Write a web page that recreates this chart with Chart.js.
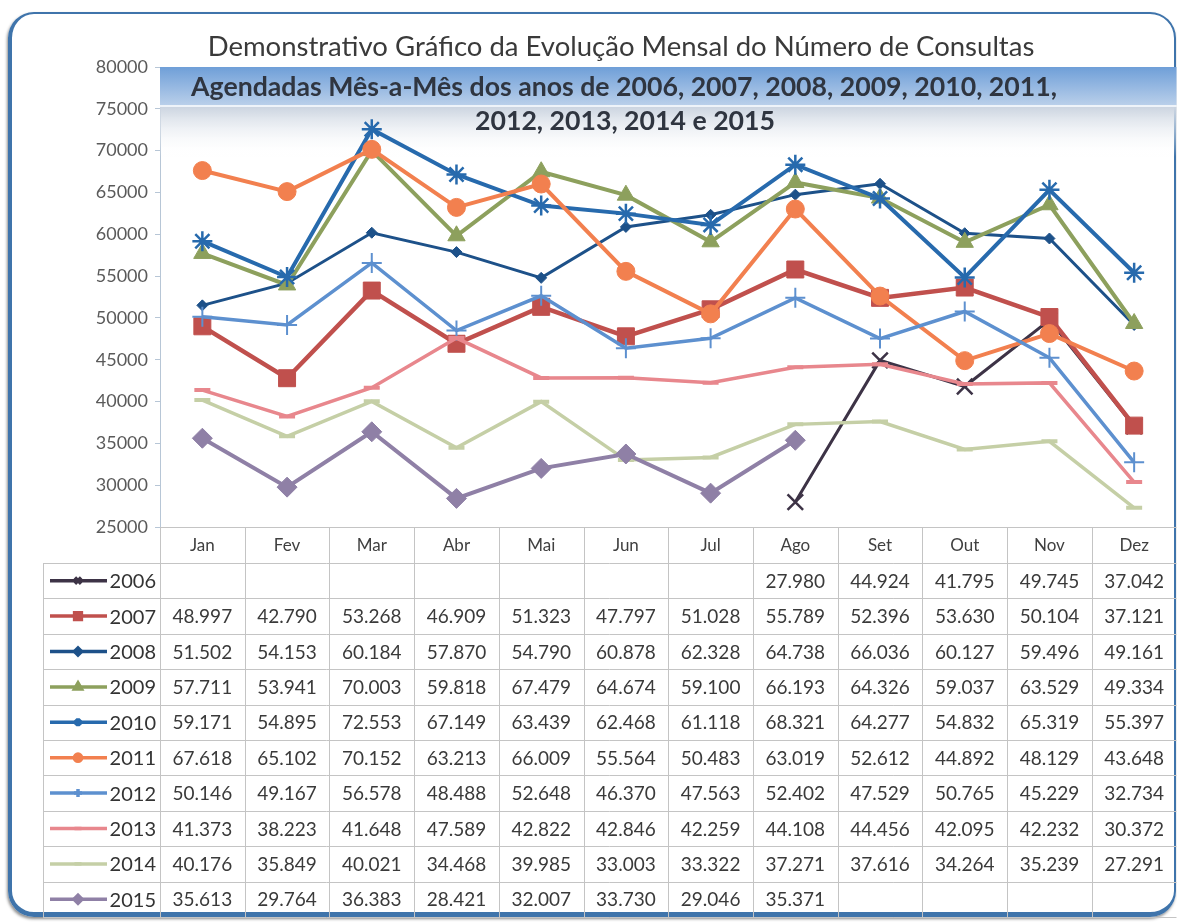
<!DOCTYPE html>
<html>
<head>
<meta charset="utf-8">
<script src="https://cdn.jsdelivr.net/npm/chart.js@4.4.0/dist/chart.umd.min.js"></script>
<style>
  html, body { margin: 0; padding: 0; background: #fff; overflow: hidden; width: 1177px; height: 923px; }
  #frame { position: absolute; left: 8px; top: 12px; width: 1168px; height: 905px; box-sizing: border-box;
    border: 2px solid #3f74ab; border-left-width: 4px; border-bottom-width: 5px; border-radius: 26px;
    box-shadow: -1px 2px 3px rgba(0,0,0,.45); }
  #lineChart { position: absolute; left: 0; top: 0; }
</style>
</head>
<body>
<div id="frame"></div>
<canvas id="lineChart" width="1190" height="923"></canvas>
<script>
// dados
var meses = ["Jan", "Fev", "Mar", "Abr", "Mai", "Jun", "Jul", "Ago", "Set", "Out", "Nov", "Dez"];
var anos = ["2006", "2007", "2008", "2009", "2010", "2011", "2012", "2013", "2014", "2015"];
var v2006 = [null, null, null, null, null, null, null, 27980, 44924, 41795, 49745, 37042];
var v2007 = [48997, 42790, 53268, 46909, 51323, 47797, 51028, 55789, 52396, 53630, 50104, 37121];
var v2008 = [51502, 54153, 60184, 57870, 54790, 60878, 62328, 64738, 66036, 60127, 59496, 49161];
var v2009 = [57711, 53941, 70003, 59818, 67479, 64674, 59100, 66193, 64326, 59037, 63529, 49334];
var v2010 = [59171, 54895, 72553, 67149, 63439, 62468, 61118, 68321, 64277, 54832, 65319, 55397];
var v2011 = [67618, 65102, 70152, 63213, 66009, 55564, 50483, 63019, 52612, 44892, 48129, 43648];
var v2012 = [50146, 49167, 56578, 48488, 52648, 46370, 47563, 52402, 47529, 50765, 45229, 32734];
var v2013 = [41373, 38223, 41648, 47589, 42822, 42846, 42259, 44108, 44456, 42095, 42232, 30372];
var v2014 = [40176, 35849, 40021, 34468, 39985, 33003, 33322, 37271, 37616, 34264, 35239, 27291];
var v2015 = [35613, 29764, 36383, 28421, 32007, 33730, 29046, 35371, null, null, null, null];
var yMin = 25000, yMax = 80000, yPasso = 5000;
var titulo1 = "Demonstrativo Gráfico da Evolução Mensal do Número de Consultas";
var titulo2 = "Agendadas Mês-a-Mês dos anos de 2006, 2007, 2008, 2009, 2010, 2011,";
var titulo3 = "2012, 2013, 2014 e 2015";

var series = [v2006, v2007, v2008, v2009, v2010, v2011, v2012, v2013, v2014, v2015];

// estilo de cada ano
var estilos = [
  { cor: "#3d3346", ponto: "crossRot", r: 11, lw: 3, pb: 2.5 },
  { cor: "#c0504d", ponto: "rect", r: 12, lw: 4.5, pb: 1 },
  { cor: "#1d5189", ponto: "rectRot", r: 5.5, lw: 3, pb: 1 },
  { cor: "#8da05d", ponto: "triangle", r: 10, lw: 4, pb: 1 },
  { cor: "#276aad", ponto: "star", r: 10, lw: 4, pb: 2.5 },
  { cor: "#f2804f", ponto: "circle", r: 9, lw: 4, pb: 1 },
  { cor: "#5d90cf", ponto: "cross", r: 10, lw: 3.5, pb: 2 },
  { cor: "#e8878d", ponto: "line", r: 8, lw: 3.5, pb: 4 },
  { cor: "#c5cfa6", ponto: "line", r: 8, lw: 3.5, pb: 4 },
  { cor: "#8f80a6", ponto: "rectRot", r: 10, lw: 4, pb: 1 }
];

function milhar(v) {
  if (v == null) return "";
  var resto = String(v % 1000);
  while (resto.length < 3) resto = "0" + resto;
  return Math.floor(v / 1000) + "." + resto;
}

function tamanho(ctx, texto, peso, largura) {
  ctx.font = peso + " 100px Lato";
  return 100 * largura / ctx.measureText(texto).width;
}

// faixa azul no topo da área do gráfico + título
var faixa = {
  id: "faixa",
  beforeDatasetsDraw: function (chart) {
    var ctx = chart.ctx, a = chart.chartArea;
    ctx.save();
    var g1 = ctx.createLinearGradient(0, a.top, 0, a.top + 38);
    g1.addColorStop(0, "#6f9fd8");
    g1.addColorStop(1, "#b9cfea");
    ctx.fillStyle = g1;
    ctx.fillRect(a.left, a.top, a.width, 38);
    ctx.fillStyle = "#eef3f9";
    ctx.fillRect(a.left, a.top + 38, a.width, 2);
    var g2 = ctx.createLinearGradient(0, a.top + 40, 0, a.top + 90);
    g2.addColorStop(0, "#cbd4e0");
    g2.addColorStop(1, "rgba(255,255,255,0)");
    ctx.fillStyle = g2;
    ctx.fillRect(a.left, a.top + 40, a.width, 50);
    ctx.restore();
  },
  afterDatasetsDraw: function (chart) {
    var ctx = chart.ctx;
    ctx.save();
    ctx.textAlign = "center";
    ctx.textBaseline = "middle";
    var s1 = tamanho(ctx, titulo1, "normal", 827);
    ctx.font = "normal " + s1 + "px Lato";
    ctx.fillStyle = "#3a3a3a";
    ctx.fillText(titulo1, 621, 47);
    var s2 = tamanho(ctx, titulo2, "bold", 866);
    ctx.font = "bold " + s2 + "px Lato";
    ctx.fillStyle = "#2f3540";
    ctx.fillText(titulo2, 624, 87);
    ctx.fillText(titulo3, 625, 121);
    ctx.restore();
  }
};

// tabela de dados abaixo do gráfico
var tabela = {
  id: "tabela",
  afterDraw: function (chart) {
    var ctx = chart.ctx, a = chart.chartArea, x = chart.scales.x;
    var col = a.width / meses.length;
    var topo = a.bottom, hCab = 36, hLin = 35.4, esq = 43;
    var base = topo + hCab;
    var fim = base + hLin * anos.length;
    var dir = a.right;
    ctx.save();
    ctx.strokeStyle = "#c4c4c4";
    ctx.lineWidth = 1;
    ctx.beginPath();
    ctx.moveTo(a.left, topo + 0.5); ctx.lineTo(dir, topo + 0.5);
    for (var i = 0; i <= anos.length; i++) {
      var yy = Math.round(base + i * hLin) + 0.5;
      ctx.moveTo(esq, yy); ctx.lineTo(dir, yy);
    }
    ctx.moveTo(esq + 0.5, base); ctx.lineTo(esq + 0.5, fim);
    for (var k = 0; k <= meses.length; k++) {
      var xx = Math.round(a.left + k * col) + 0.5;
      ctx.moveTo(xx, topo); ctx.lineTo(xx, fim);
    }
    ctx.stroke();

    ctx.textAlign = "center";
    ctx.textBaseline = "middle";
    ctx.fillStyle = "#404040";
    ctx.font = "17px Lato";
    meses.forEach(function (m, j) {
      ctx.fillText(m, x.getPixelForValue(j), topo + hCab / 2 + 1);
    });

    ctx.font = "19px Lato";
    ctx.fillStyle = "#3a3a3a";
    series.forEach(function (s, i) {
      var cy = base + (i + 0.5) * hLin + 1;
      s.forEach(function (v, j) {
        ctx.fillText(milhar(v), x.getPixelForValue(j), cy);
      });
    });

    // legenda de cada linha
    ctx.textAlign = "right";
    series.forEach(function (s, i) {
      var e = estilos[i];
      var cy = base + (i + 0.5) * hLin;
      ctx.strokeStyle = e.cor;
      ctx.lineWidth = 3.5;
      ctx.beginPath();
      ctx.moveTo(50, cy); ctx.lineTo(107, cy);
      ctx.stroke();
      ctx.fillStyle = e.cor;
      Chart.helpers.drawPoint(ctx, { pointStyle: e.ponto, radius: Math.max(e.r * 0.4, 3.5), rotation: 0, borderWidth: 1.5 }, 78, cy);
      ctx.fillStyle = "#333333";
      ctx.font = "20px Lato";
      ctx.fillText(anos[i], 156, cy + 1);
    });
    ctx.restore();
  }
};

var datasets = series.map(function (s, i) {
  var e = estilos[i];
  return {
    label: anos[i],
    data: s,
    borderColor: e.cor,
    backgroundColor: e.cor,
    borderWidth: e.lw,
    pointStyle: e.ponto,
    pointRadius: e.r,
    pointBorderWidth: e.pb,
    pointBorderColor: e.cor,
    pointBackgroundColor: e.cor,
    tension: 0,
    spanGaps: false,
    order: -i
  };
});

var ctx = document.getElementById("lineChart").getContext("2d");
var myChart = new Chart(ctx, {
  type: "line",
  data: { labels: meses, datasets: datasets },
  plugins: [faixa, tabela],
  options: {
    responsive: false,
    animation: false,
    layout: { padding: { left: 0, right: 4, top: 67, bottom: 396 } },
    plugins: { legend: { display: false }, tooltip: { enabled: false } },
    scales: {
      x: { display: false, offset: true },
      y: {
        min: yMin,
        max: yMax,
        afterFit: function (scale) { scale.width = 160; },
        border: { display: true, color: "#b7c6d6", width: 1 },
        grid: { display: true, drawOnChartArea: false, drawTicks: true, tickLength: 5, color: "#b7c6d6" },
        ticks: {
          stepSize: yPasso,
          padding: 7,
          color: "#5a5a5a",
          font: { family: "Lato", size: 18 },
          callback: function (v) { return String(v); }
        }
      }
    }
  }
});
</script>
</body>
</html>
